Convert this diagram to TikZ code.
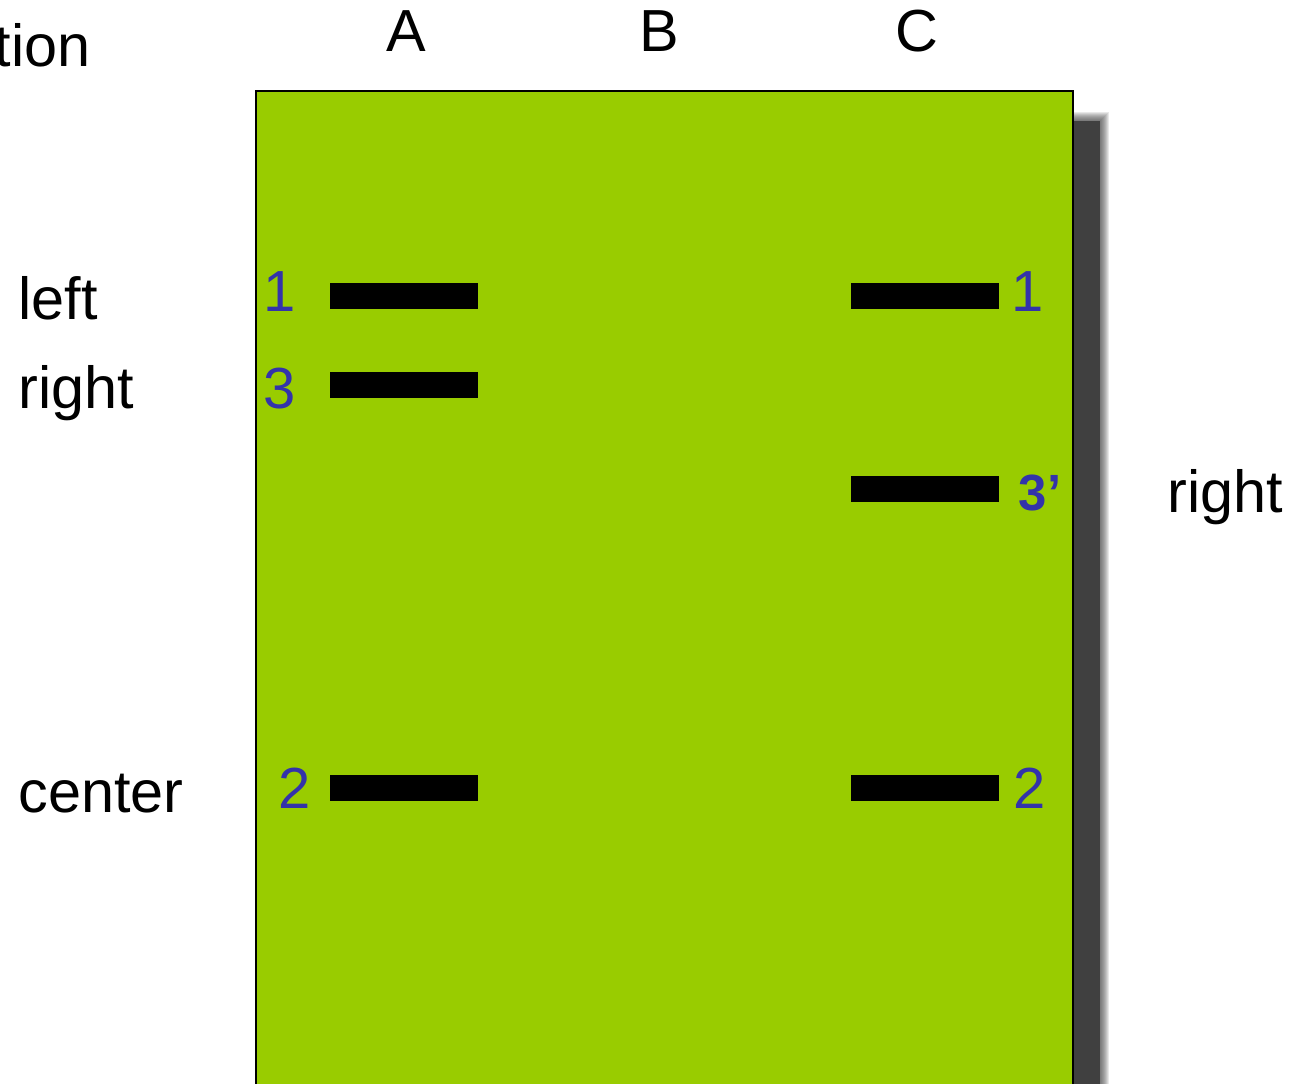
\documentclass[tikz,border=0pt]{standalone}
\usepackage{fontspec}
\setmainfont{Liberation Sans}
\usetikzlibrary{positioning}
\definecolor{gel}{RGB}{153,204,0}
\definecolor{lanenum}{RGB}{51,51,170}
\definecolor{shadowgray}{RGB}{64,64,64}

\tikzset{
  band/.style={fill=black,draw=none,minimum width=2.96cm,minimum height=0.52cm,inner sep=0pt,outer sep=0pt},
  num/.style={text=lanenum,font=\fontsize{33}{38}\selectfont,inner sep=0pt},
  lbl/.style={font=\fontsize{33.8}{38}\selectfont,inner sep=0pt}
}

\begin{document}
\begin{tikzpicture}[x=0.02cm,y=-0.02cm]
\useasboundingbox (0,0) rectangle (1301,1084);
% soft shadow on the right of the gel
\foreach \i in {1,...,9}
  \fill[shadowgray,opacity=0.12] (1060,121-\i) rectangle (1100+\i,1100);
\fill[shadowgray] (1060,121) rectangle (1100,1100);
% the gel
\draw[fill=gel,line width=1.2pt] (256,91) rectangle (1073,1100);
% lane names
\node[lbl,anchor=base] (laneA) at (406,52) {A};
\node[lbl,anchor=base] (laneB) at (659,52) {B};
\node[lbl,anchor=base] (laneC) at (917,52) {C};
\node[lbl,anchor=base east] (head) at (91,67) {tion};
% bands in lane A
\node[band] (a1) at (404,296) {};
\node[band] (a3) at (404,385) {};
\node[band] (a2) at (404,788) {};
\node[num,anchor=base] at (280,312) {1};
\node[num,anchor=base] at (280,408) {3};
\node[num,anchor=base] at (295,808) {2};
% bands in lane C
\node[band] (c1) at (925,296) {};
\node[band] (c3) at (925,489) {};
\node[band] (c2) at (925,788) {};
\node[num,anchor=base] at (1028,312) {1};
\node[num,anchor=base,font=\fontsize{29}{34}\selectfont\bfseries] at (1040,510) {3’};
\node[num,anchor=base] at (1030,808) {2};
% side labels
\node[lbl,anchor=base west] (left1) at (18,320) {left};
\node[lbl,anchor=base west] (right1) at (18,408) {right};
\node[lbl,anchor=base west] (center1) at (18,812) {center};
\node[lbl,anchor=base west] (right2) at (1167,512) {right};
\end{tikzpicture}
\end{document}
